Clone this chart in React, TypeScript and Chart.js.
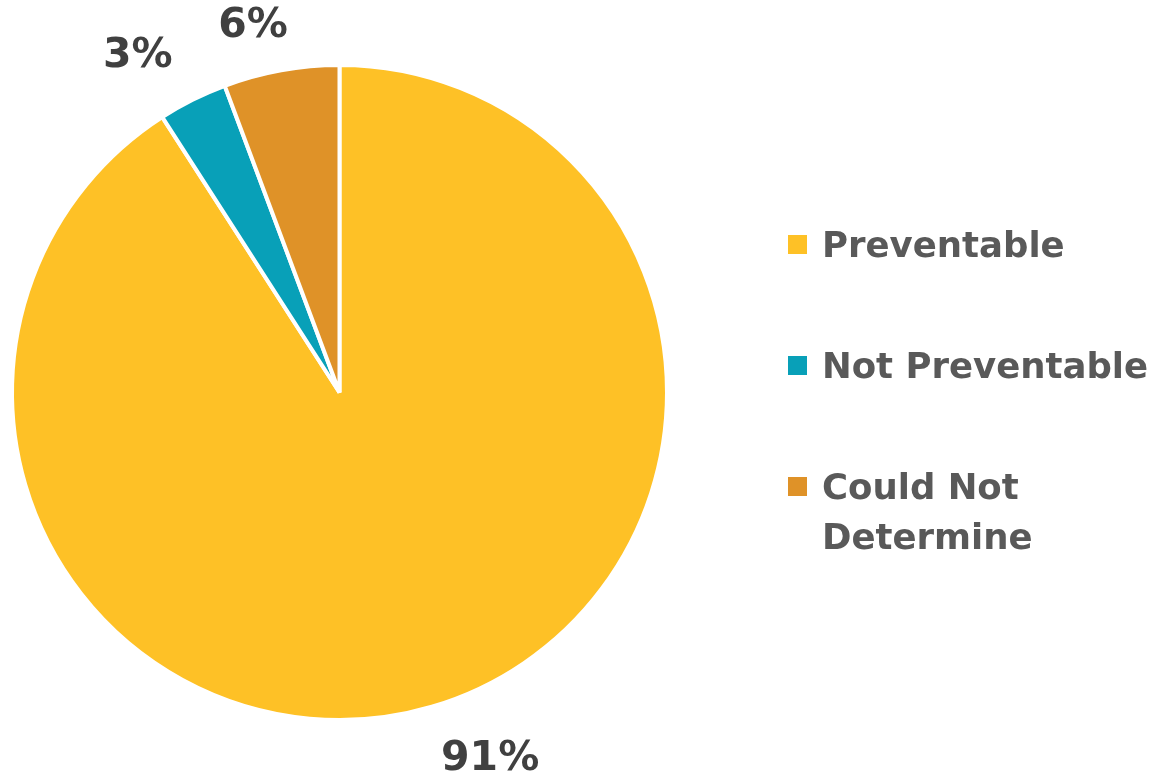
import React, { useEffect, useRef } from "react";
import { Chart, registerables } from "chart.js";

Chart.register(...registerables);

const categories: string[] = ["Preventable", "Not Preventable", "Could Not Determine"];
const legendLines: string[][] = [["Preventable"], ["Not Preventable"], ["Could Not", "Determine"]];
const values: number[] = [90.9, 3.4, 5.7];
const valueLabels: string[] = ["91%", "3%", "6%"];
const colors: string[] = ["#FEC126", "#08A0B8", "#DF9228"];

// label nudges (layout only)
const labelNudge: [number, number][] = [
  [47, 14],
  [-37, -8],
  [-21, -5],
];

const FONT = '"DejaVu Sans", sans-serif';

const labelPlugin = {
  id: "outsideLabels",
  afterDatasetsDraw(chart: any) {
    const ctx = chart.ctx;
    const meta = chart.getDatasetMeta(0);
    ctx.save();
    ctx.font = `bold 41px ${FONT}`;
    ctx.fillStyle = "#404040";
    ctx.textAlign = "center";
    ctx.textBaseline = "middle";
    meta.data.forEach((arc: any, i: number) => {
      const p = arc.getProps(["x", "y", "startAngle", "endAngle", "outerRadius"], true);
      const mid = (p.startAngle + p.endAngle) / 2;
      const d = p.outerRadius + 40;
      const x = p.x + Math.cos(mid) * d + labelNudge[i][0];
      const y = p.y + Math.sin(mid) * d + labelNudge[i][1];
      ctx.fillText(valueLabels[i], x, y);
    });
    ctx.restore();
  },
};

export default function App() {
  const canvasRef = useRef<HTMLCanvasElement | null>(null);

  useEffect(() => {
    if (!canvasRef.current) return;
    const chart = new Chart(canvasRef.current, {
      type: "pie",
      data: {
        labels: categories,
        datasets: [
          {
            data: values,
            backgroundColor: colors,
            borderColor: "#ffffff",
            borderWidth: 4,
          },
        ],
      },
      options: {
        animation: false,
        responsive: false,
        maintainAspectRatio: false,
        layout: { padding: { left: 10, right: 484, top: 63, bottom: 53 } },
        plugins: {
          legend: { display: false },
          tooltip: { enabled: false },
        },
      },
      plugins: [labelPlugin],
    });
    return () => chart.destroy();
  }, []);

  const rowTops = [245, 366, 487];

  return (
    <div style={{ position: "absolute", left: 0, top: 0, width: 1153, height: 775, background: "#fff", overflow: "hidden" }}>
      <canvas ref={canvasRef} width={1153} height={775} style={{ position: "absolute", left: 0, top: 0, width: 1153, height: 775 }} />
      {categories.map((c, i) => (
        <div key={c}>
          <div
            style={{
              position: "absolute",
              left: 788,
              top: rowTops[i] - 10,
              width: 19,
              height: 19,
              background: colors[i],
            }}
          />
          <div
            style={{
              position: "absolute",
              left: 822,
              top: rowTops[i] - 25,
              fontFamily: FONT,
              fontWeight: "bold",
              fontSize: 35.5,
              lineHeight: "50px",
              color: "#595959",
              whiteSpace: "nowrap",
            }}
          >
            {legendLines[i].map((l, j) => (
              <div key={j}>{l}</div>
            ))}
          </div>
        </div>
      ))}
    </div>
  );
}
